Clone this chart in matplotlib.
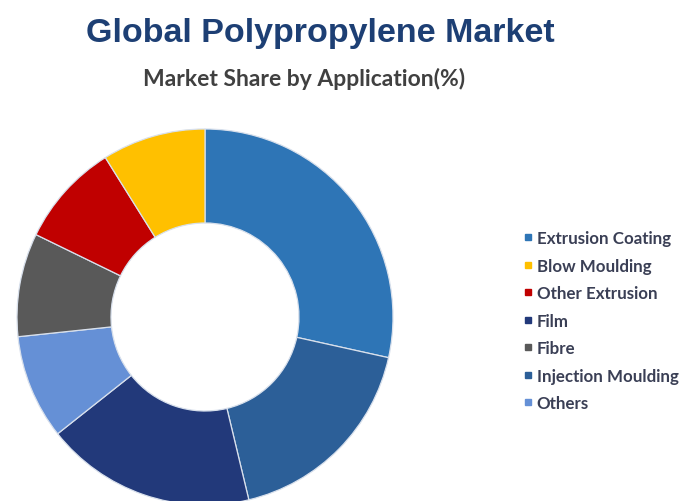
import matplotlib
matplotlib.use("Agg")
import matplotlib.pyplot as plt
from matplotlib.lines import Line2D

# Data (clockwise from 12 o'clock)
slice_labels = ["Extrusion Coating", "Injection Moulding", "Film", "Others",
                "Fibre", "Other Extrusion", "Blow Moulding"]
slice_values = [28.5, 17.8, 18.1, 9.0, 8.9, 8.9, 8.9]
slice_colors = ["#2E75B6", "#2C5F98", "#22397A", "#6590D6",
                "#595959", "#C00000", "#FFC000"]
legend_order = ["Extrusion Coating", "Blow Moulding", "Other Extrusion", "Film",
                "Fibre", "Injection Moulding", "Others"]

title = "Global Polypropylene Market"
subtitle = "Market Share by Application(%)"

W, H = 686, 502
fig = plt.figure(figsize=(W / 100, H / 100), dpi=100)
fig.patch.set_facecolor("white")

cx, cy, r = 205, 318, 188
ax = fig.add_axes([(cx - r) / W, (H - cy - r) / H, 2 * r / W, 2 * r / H])
ax.pie(slice_values, colors=slice_colors, startangle=90, counterclock=False,
       radius=1.0,
       wedgeprops=dict(width=0.5, edgecolor="#d8e0ec", linewidth=0.9))
ax.set_xlim(-1, 1)
ax.set_ylim(-1, 1)
ax.set_aspect("equal")
ax.axis("off")

fig.text(320 / W, 1 - 42 / H, title, ha="center", va="baseline",
         fontsize=24.5, fontweight="bold", color="#1D3F74",
         family=["Liberation Sans", "DejaVu Sans"])
fig.text(304 / W, 1 - 86 / H, subtitle, ha="center", va="baseline",
         fontsize=16.5, fontweight="bold", color="#404040",
         family=["Lato", "DejaVu Sans"])

color_map = dict(zip(slice_labels, slice_colors))
handles = [Line2D([], [], marker="s", linestyle="none", markersize=4.5,
                  markerfacecolor=color_map[n], markeredgecolor=color_map[n])
           for n in legend_order]
leg = fig.legend(handles, legend_order, loc="upper left",
                 bbox_to_anchor=(508 / W, 1 - 216 / H), frameon=False,
                 handlelength=0.6, handletextpad=0.2, labelspacing=0.68,
                 prop=dict(family=["Lato", "DejaVu Sans"], weight="bold", size=12.2))
for t in leg.get_texts():
    t.set_color("#3A3F55")

fig.savefig("out.png", dpi=100, facecolor="white")
